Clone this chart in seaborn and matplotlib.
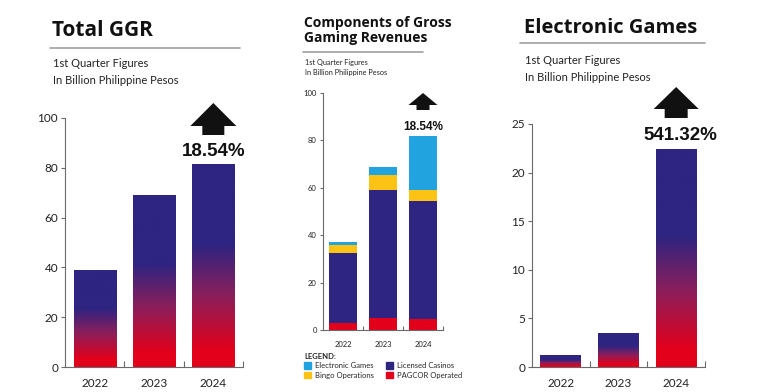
import numpy as np
import matplotlib
matplotlib.use("Agg")
import matplotlib.pyplot as plt
import seaborn as sns
from matplotlib.colors import LinearSegmentedColormap
from matplotlib.patches import Polygon, Rectangle

# --- data ---
years = ["2022", "2023", "2024"]
total_ggr = [39.0, 68.9, 81.7]
pagcor_operated = [2.8, 4.9, 4.5]
licensed_casinos = [29.6, 54.3, 50.0]
bingo_operations = [3.5, 6.0, 4.7]
electronic_games = [1.2, 3.5, 22.45]
ggr_growth = "18.54%"
egames_growth = "541.32%"
subtitle = ["1st Quarter Figures", "In Billion Philippine Pesos"]

RED = "#e3001b"
NAVY = "#2e2481"
BLUE = "#21a3e0"
YELLOW = "#fcc314"
AXIS = "#6a6a6a"
W, H = 760, 392

sns.set_theme(style="white")
plt.rcParams["font.family"] = ["Lato", "DejaVu Sans"]
TITLE_FONT = ["Open Sans", "DejaVu Sans"]
PCT_FONT = ["Liberation Sans", "DejaVu Sans"]

fig = plt.figure(figsize=(W / 100, H / 100), dpi=100)
fig.patch.set_facecolor("white")

grad_cmap = LinearSegmentedColormap.from_list(
    "ph", [(0, RED), (0.08, RED), (0.35, "#8a1f5b"), (0.6, NAVY), (1, NAVY)])


def px_axes(left, top, right, bottom):
    return fig.add_axes([left / W, 1 - bottom / H, (right - left) / W, (bottom - top) / H])


def ftext(x, y, s, **kw):
    # x, y in pixels from top-left
    fig.text(x / W, 1 - y / H, s, **kw)


def style_axis(ax, ymax, yticks, fs):
    ax.set_xlim(-0.5, 2.5)
    ax.set_ylim(0, ymax)
    ax.set_yticks(yticks)
    ax.set_xticks([0.5, 1.5, 2.5], minor=True)
    ax.tick_params(axis="x", which="major", bottom=False, labelsize=fs, pad=2, labelcolor="#222")
    ax.tick_params(axis="x", which="minor", bottom=True, length=4, direction="in",
                   width=0.8, color=AXIS)
    ax.tick_params(axis="y", left=True, length=3, width=0.8, color=AXIS,
                   labelsize=fs, pad=2, labelcolor="#222")
    sns.despine(ax=ax)
    for s in ["left", "bottom"]:
        ax.spines[s].set_color(AXIS)
        ax.spines[s].set_linewidth(0.8)
    ax.set_xlabel("")
    ax.set_ylabel("")
    ax.set_facecolor("none")


def gradient_bars(ax, values):
    sns.barplot(x=years, y=values, color=NAVY, width=0.71, saturation=1, linewidth=0, ax=ax)
    grad = np.linspace(0, 1, 256).reshape(-1, 1)
    for bar in ax.patches:
        x0, w, h = bar.get_x(), bar.get_width(), bar.get_height()
        im = ax.imshow(grad, cmap=grad_cmap, origin="lower", aspect="auto",
                       extent=(x0, x0 + w, 0, h), zorder=bar.get_zorder() + 0.1)
        im.set_clip_path(bar)


def up_arrow(ax, idx, tip, head_w, head_h, stem_w, stem_h):
    # block arrow centred over bar idx; vertical sizes in pixels from top
    cx = ax.transData.transform((idx, 0))[0]
    base = tip + head_h
    pts = [(cx, tip), (cx + head_w / 2, base), (cx + stem_w / 2, base),
           (cx + stem_w / 2, base + stem_h), (cx - stem_w / 2, base + stem_h),
           (cx - stem_w / 2, base), (cx - head_w / 2, base)]
    pts = [(x / W, 1 - y / H) for x, y in pts]
    fig.add_artist(Polygon(pts, closed=True, facecolor="#111111", edgecolor="none",
                           transform=fig.transFigure))
    return cx


def header(x, title_lines, title_size, baselines, rule, sub_y, sub_size):
    for line, b in zip(title_lines, baselines):
        ftext(x, b, line, fontsize=title_size, fontweight="bold", family=TITLE_FONT,
              color="#111", va="baseline")
    x0, x1, y = rule
    fig.add_artist(plt.Line2D([x0 / W, x1 / W], [1 - y / H, 1 - y / H],
                              color="#a0a0a0", lw=1.2, transform=fig.transFigure))
    for line, b in zip(subtitle, sub_y):
        ftext(x + 1, b, line, fontsize=sub_size, color="#222", va="baseline")


# --- panel 1: Total GGR ---
ax1 = px_axes(65, 118, 243, 367)
gradient_bars(ax1, total_ggr)
style_axis(ax1, 100, [0, 20, 40, 60, 80, 100], 8.5)
header(52, ["Total GGR"], 15, [36], (50, 240, 48), [67, 84], 8)
cx = up_arrow(ax1, 2, 103, 46, 23, 22, 9)
ftext(cx, 156, ggr_growth, fontsize=13.5, fontweight="bold", family=PCT_FONT,
      ha="center", va="baseline", color="#111")

# --- panel 2: components, stacked ---
ax2 = px_axes(323, 93, 443, 330)
layers = [pagcor_operated, licensed_casinos, bingo_operations, electronic_games]
tops = np.cumsum(np.array(layers), axis=0)
for vals, col in zip(tops[::-1], [BLUE, YELLOW, NAVY, RED]):
    sns.barplot(x=years, y=vals, color=col, width=0.72, saturation=1, linewidth=0, ax=ax2)
style_axis(ax2, 100, [0, 20, 40, 60, 80, 100], 5.5)
ax2.tick_params(axis="y", length=2.5)
ax2.tick_params(axis="x", which="minor", length=3)
header(304, ["Components of Gross", "Gaming Revenues"], 10, [27, 42], (303, 423, 52),
       [65, 75.5], 5.3)
cx = up_arrow(ax2, 2, 93, 29, 12, 13, 5)
ftext(cx, 130, ggr_growth, fontsize=8.5, fontweight="bold", family=PCT_FONT,
      ha="center", va="baseline", color="#111")

handles = [Rectangle((0, 0), 1, 1, color=c) for c in [BLUE, YELLOW, NAVY, RED]]
labels = ["Electronic Games", "Bingo Operations", "Licensed Casinos", "PAGCOR Operated"]
fig.legend(handles, labels, ncol=2, loc="upper left", bbox_to_anchor=(304 / W, 1 - 353 / H),
           frameon=False, title="LEGEND:", title_fontproperties={"weight": "bold", "size": 5.5},
           alignment="left", fontsize=5.5, handlelength=0.9, handleheight=0.9,
           handletextpad=0.6, columnspacing=1.5, labelspacing=0.3, borderpad=0,
           borderaxespad=0)

# --- panel 3: Electronic Games ---
ax3 = px_axes(532, 124, 705, 367)
gradient_bars(ax3, electronic_games)
style_axis(ax3, 25, [0, 5, 10, 15, 20, 25], 8.5)
header(524, ["Electronic Games"], 14.5, [33], (520, 705, 43), [64, 81], 8)
cx = up_arrow(ax3, 2, 87, 45, 22, 23, 9)
ftext(cx + 4, 140, egames_growth, fontsize=13.5, fontweight="bold", family=PCT_FONT,
      ha="center", va="baseline", color="#111")

fig.savefig("out.png", dpi=100, facecolor="white")
